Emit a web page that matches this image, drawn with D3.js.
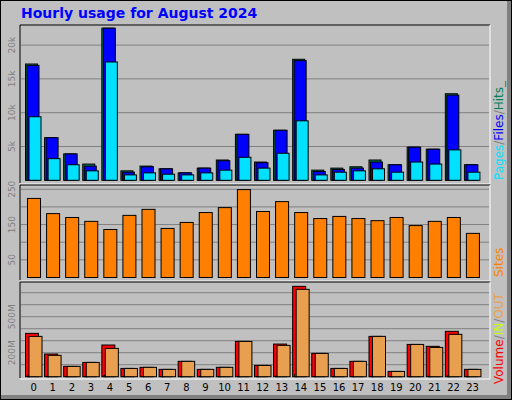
<!DOCTYPE html>
<html><head><meta charset="utf-8">
<script src="https://cdn.jsdelivr.net/npm/d3@7"></script>
<style>body{margin:0;background:#fff}text{font-family:"DejaVu Sans",sans-serif}</style>
</head><body>
<script>
// hourly data (thousands for hits/files/pages, MB for volume)
var hours = d3.range(24);
var hits  = [17.2,6.3,3.9,2.4,22.5,1.4,2.1,1.7,1.1,1.8,3.0,6.8,2.7,7.4,17.9,1.5,1.8,2.0,3.0,2.3,4.9,4.6,12.8,2.3];
var files = [17.0,6.3,3.9,2.1,22.5,1.2,2.0,1.7,1.1,1.8,2.9,6.8,2.6,7.4,17.7,1.3,1.6,1.8,2.7,2.3,4.9,4.6,12.6,2.3];
var pages = [9.4,3.2,2.3,1.4,17.5,0.8,1.1,0.9,0.8,1.1,1.5,3.4,1.8,4.0,8.8,0.8,1.2,1.4,1.7,1.2,2.7,2.4,4.5,1.2];
var sites = [224,181,170,159,136,176,193,139,156,184,198,249,187,215,184,167,173,167,161,170,147,159,170,125];
var volume = [361,189,86,119,264,69,78,61,128,61,78,294,94,272,753,194,69,128,336,44,269,253,378,61];
var volOut = [336,178,86,119,236,69,78,61,128,61,78,294,94,261,728,194,69,128,336,44,269,244,353,61];
var volIn  = [10,3,2,2,10,2,2,2,2,2,2,3,2,6,15,2,2,2,3,2,2,3,10,2];
var hitTicks = [5,10,15,20], siteTicks = [50,150,250], volTicks = [200,500];

var svg = d3.select("body").append("svg").attr("width",512).attr("height",400);
svg.append("rect").attr("width",512).attr("height",400).attr("fill","#000");
svg.append("rect").attr("x",1).attr("y",1).attr("width",510).attr("height",398).attr("fill","#808080");
svg.append("rect").attr("x",1).attr("y",1).attr("width",506).attr("height",394).attr("fill","#c0c0c0");

svg.append("text").attr("x",21).attr("y",18).attr("fill","#0000ff")
  .attr("font-size",14).attr("font-weight","bold").attr("font-family","Liberation Sans, Arial")
  .text("Hourly usage for August 2024");

var x = d3.scaleBand().domain(hours).range([25,483]);

function panel(y0,y1){
  var g = svg.append("g");
  g.append("rect").attr("x",20).attr("y",y0).attr("width",470).attr("height",y1-y0).attr("fill","#c0c0c0");
  g.append("path").attr("d","M20,"+y1+"V"+y0+"H490").attr("stroke","#000").attr("fill","none");
  g.append("path").attr("d","M20,"+(y1+1)+"H490V"+y0).attr("stroke","#fff").attr("fill","none");
  return g;
}
function grid(g,y,vals){
  g.selectAll(".gl").data(vals).enter().append("line")
    .attr("x1",21).attr("x2",489).attr("y1",d=>y(d)).attr("y2",d=>y(d)).attr("stroke","#808080");
}
function ylabels(g,y,vals,fmt){
  g.selectAll(".tl").data(vals).enter().append("text")
    .attr("transform",d=>"translate(15,"+y(d)+") rotate(-90)")
    .attr("text-anchor","middle").attr("font-size",9).attr("fill","#808080").text(fmt);
}
function bars(g,data,y,dx,w,fill){
  g.selectAll(null).data(data).enter().append("rect")
    .attr("x",(d,i)=>x(i)+dx).attr("y",d=>y(d)).attr("width",w)
    .attr("height",d=>Math.max(0,y(0)-y(d))).attr("fill",fill).attr("stroke","#000");
}

// hits / files / pages
var g1 = panel(25,183);
var y1 = d3.scaleLinear().domain([0,23]).range([180.3,24.8]);
grid(g1,y1,hitTicks);
ylabels(g1,y1,hitTicks,d=>d+"k");
bars(g1,hits,y1,0.5,12,"#00805c");
bars(g1,files,y1,2,12,"#0000ff");
bars(g1,pages,y1,4,12,"#00e0ff");

// sites
var g2 = panel(185,280);
var y2 = d3.scaleLinear().domain([0,100]).range([277.5,242.2]);
grid(g2,y2,[50,100,150,200,250]);
ylabels(g2,y2,siteTicks,d=>d);
bars(g2,sites,y2,2.5,13,"#ff8000");

// volume
var g3 = panel(282,378);
var y3 = d3.scaleLinear().domain([0,100]).range([376.7,364.7]);
grid(g3,y3,[100,200,300,400,500,600,700]);
ylabels(g3,y3,volTicks,d=>d+"M");
bars(g3,volume,y3,0.5,13,"#ff0000");
bars(g3,volIn,y3,2.5,2,"#c0ff00");
bars(g3,volOut,y3,4,13,"#e8a050");

// hour labels
svg.selectAll(".hl").data(hours).enter().append("text")
  .attr("x",d=>x(d)+8.7).attr("y",391).attr("text-anchor","middle").attr("font-size",10)
  .attr("font-family","Liberation Sans, Arial").text(d=>d);

// right side legends
function legend(yb,parts){
  var t = svg.append("text").attr("transform","translate(503,"+yb+") rotate(-90)")
    .attr("font-size",12).attr("font-family","Liberation Sans, Arial");
  parts.forEach(p=>t.append("tspan").attr("fill",p[1]).text(p[0]));
}
legend(180,[["Pages","#00e0ff"],["/","#808080"],["Files","#0000ff"],["/","#808080"],["Hits_","#00805c"]]);
legend(277,[["Sites","#ff8000"]]);
legend(384,[["Volume","#ff0000"],["/","#808080"],["IN","#c0ff00"],["/","#808080"],["OUT","#e8a050"]]);
</script>
</body></html>
